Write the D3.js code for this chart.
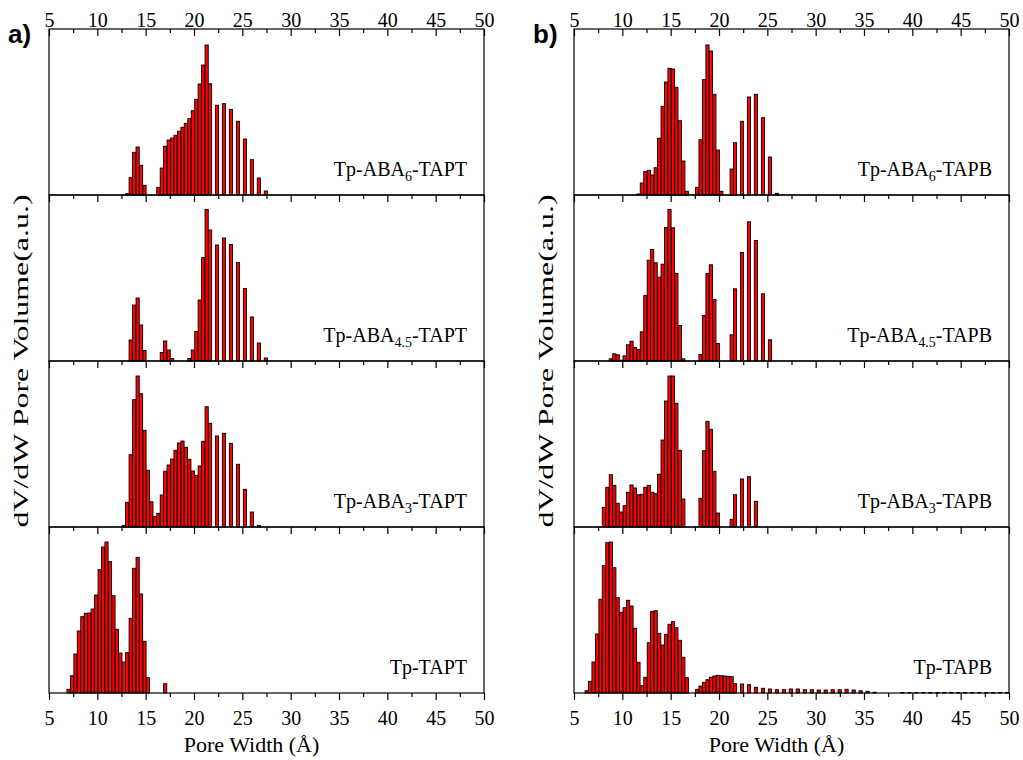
<!DOCTYPE html>
<html>
<head>
<meta charset="utf-8">
<script src="https://cdn.jsdelivr.net/npm/d3@7"></script>
<style>
  body { margin: 0; background: #fff; }
</style>
</head>
<body>
<div class="chart"></div>
<script>
// DFT pore width grid (Å)
const poreWidth = [
  6.31, 6.67, 7.02, 7.38, 7.74, 8.09, 8.45, 8.81, 9.17, 9.52,
  9.88, 10.24, 10.59, 10.95, 11.31, 11.67, 12.02, 12.38, 12.74, 13.09,
  13.45, 13.81, 14.17, 14.52, 14.88, 15.24, 15.59, 15.95, 16.31, 16.67,
  17.02, 17.38, 17.74, 18.09, 18.45, 18.81, 19.16, 19.52, 19.88, 20.24,
  20.59, 20.95, 21.31, 21.66, 22.38, 23.10, 23.82, 24.55, 25.27, 25.99,
  26.71, 27.43, 28.15, 28.88, 29.60, 30.32, 31.04, 31.76, 32.48, 33.20,
  33.93, 34.65, 35.37, 36.09, 36.81, 37.53, 38.26, 38.98, 39.70, 40.42,
  41.14, 41.86, 42.59, 43.31, 44.03, 44.75, 45.47, 46.19, 46.92, 47.64,
  48.36, 49.08, 49.80
];

// dV/dW (a.u.), one value per pore width above, missing tail = 0
const tpABA6TAPT = [
  0, 0, 0, 0, 0, 0, 0, 0, 0, 0, 0, 0, 0, 0, 0, 0, 0, 0, 0,
  1.3, 17.3, 42.7, 48, 29.7, 9.7, 0, 0, 0, 7.7, 27, 48.7, 55, 57, 59.7,
  63.7, 67.7, 71.7, 76.3, 84.3, 95.7, 111, 130, 150, 111.3,
  89.7, 91.3, 85.7, 73.7, 56, 35.3, 17, 4
];
const tpABA45TAPT = [
  0, 0, 0, 0, 0, 0, 0, 0, 0, 0, 0, 0, 0, 0, 0, 0, 0, 0, 0, 0,
  21, 56, 63, 36, 10.5, 0, 0, 0, 0, 8.5, 20, 11, 2.5, 0, 0, 0, 0,
  2.5, 11, 29.5, 61, 103.5, 151.5, 131,
  116, 123, 116.5, 98.5, 72.5, 44, 18, 3
];
const tpABA3TAPT = [
  0, 0, 0, 0, 0, 0, 0, 0, 0, 0, 0, 0, 0, 0, 0, 0, 0, 0,
  1.7, 24.7, 72.3, 127.3, 151, 133.3, 96.7, 56.7, 25.3, 10.3, 13.7, 32,
  55.7, 62, 68, 76.7, 84, 86, 79.7, 67.7, 56, 51.7, 61, 85.7, 120.3, 103.7,
  91, 93.7, 83.7, 62.7, 37.7, 15, 1.7
];
const tpTAPT = [
  0, 0, 3.7, 17.3, 39, 62, 76.3, 79.7, 80, 84, 98, 123.3, 146, 151, 131.3,
  97.3, 63.7, 40, 31, 40.3, 74.7, 124.7, 135.7, 99, 51.7, 15.3, 0, 0, 0, 0, 9.3
];
const tpABA6TAPB = [
  0, 0, 0, 0, 0, 0, 0, 0, 0, 0, 0, 0, 0, 0, 0,
  1, 12, 23.3, 24.7, 20, 27.3, 56.7, 88.7, 113, 126.7, 126, 107.7, 74.3, 34, 3.7,
  0, 0, 7.7, 55.3, 115.3, 150, 144, 100.7, 45, 3.7, 0, 0, 26, 52.3,
  73.7, 98, 100.7, 77.3, 38, 1.7
];
const tpABA45TAPB = [
  0, 0, 0, 0, 0, 0, 0,
  2.2, 7.2, 6.2, 0.8, 5.2, 16.2, 19.8, 13.5, 11.5, 29.2, 65.5, 100.8, 111.5,
  98.2, 83.8, 96.8, 133.5, 151.5, 133.2, 87.5, 35.5, 2.2, 0, 0, 0, 0,
  6.5, 45.5, 87.5, 96.2, 61.5, 17.5, 0, 0, 0, 26.2, 72.2,
  108.5, 139.2, 120.5, 67.2, 21.2
];
const tpABA3TAPB = [
  0, 0, 0, 0, 0,
  19.7, 39.7, 52.3, 41.7, 23.7, 15, 21.3, 34.7, 42, 39, 32.3, 32.7, 39.7, 41.7,
  34.7, 33.3, 52.7, 87, 126, 151, 151, 123.7, 76.7, 28, 0, 0, 0, 0,
  28.7, 76.3, 105.7, 97.7, 55.7, 14, 0, 0, 0, 7.7, 32.3,
  48, 50.3, 25.7
];
const tpTAPB = [
  2.3, 11.7, 31, 59, 93.7, 127.3, 150.3, 151, 125.3, 95.3, 80.7, 85.3, 92.7, 87,
  64.7, 30.7, 7.3, 15.7, 50.3, 81.7, 82.3, 59.7, 48, 58.7, 68.7, 71.3, 65.3,
  52.7, 35.7, 15.3, 0, 0, 3.7, 7, 10.7, 13.3, 15.7, 17, 17.7, 17.3, 17, 16.7,
  16.3, 9.3, 9, 8.3, 5.7, 4.7, 4, 3.3, 3.3, 4, 4, 3.3, 3.3, 3, 3, 3.3, 3.3,
  3.7, 3, 2.3, 1.7, 0.8, 0, 0, 0, 0.5, 0.5, 0.5, 0.5, 0.5, 0.5, 0.5, 0.5,
  0.5, 0.5, 0.5, 0.5, 0.5, 0.5, 0.5, 0.5
];

// sample names: [main, subscript, rest]
const namesA = [["Tp-ABA", "6", "-TAPT"], ["Tp-ABA", "4.5", "-TAPT"], ["Tp-ABA", "3", "-TAPT"], ["Tp-TAPT", "", ""]];
const namesB = [["Tp-ABA", "6", "-TAPB"], ["Tp-ABA", "4.5", "-TAPB"], ["Tp-ABA", "3", "-TAPB"], ["Tp-TAPB", "", ""]];

const xTicks = [5, 10, 15, 20, 25, 30, 35, 40, 45, 50];
const xMinorTicks = [7.5, 12.5, 17.5, 22.5, 27.5, 32.5, 37.5, 42.5, 47.5];

const width = 1023;
const height = 760;

const svg = d3
  .select(".chart")
  .append("svg")
  .attr("width", width)
  .attr("height", height);

const plotTop = 29;
const rowHeight = 166;
const panelWidth = 435;
const barWidth = 0.33;
const serif = '"Liberation Serif", "Times New Roman", serif';

function drawPanel(left, tag, names, series) {
  const x = d3.scaleLinear().domain([5, 50]).range([left, left + panelWidth]);
  const y = d3.scaleLinear().domain([0, 166]).range([rowHeight, 0]);

  series.forEach((values, row) => {
    const g = svg
      .append("g")
      .attr("transform", `translate(0,${plotTop + row * rowHeight})`);

    const bars = values
      .map((v, i) => ({ w: poreWidth[i], v: v }))
      .filter((d) => d.v > 0);

    // bars
    g.selectAll("rect.bar")
      .data(bars)
      .enter()
      .append("rect")
      .attr("class", "bar")
      .attr("x", (d) => x(d.w - barWidth / 2))
      .attr("width", x(5 + barWidth) - x(5))
      .attr("y", (d) => y(d.v))
      .attr("height", (d) => y(0) - y(d.v))
      .attr("fill", "#ff0000")
      .attr("stroke", "#000")
      .attr("stroke-width", 0.9);

    // frame
    g.append("rect")
      .attr("x", x(5))
      .attr("y", 0)
      .attr("width", x(50) - x(5))
      .attr("height", rowHeight)
      .attr("fill", "none")
      .attr("stroke", "#000")
      .attr("stroke-width", 1.2);

    // inward ticks on top edge of each row
    const major = g.append("g").call(
      d3.axisBottom(x).tickValues(xTicks).tickSize(7).tickFormat("")
    );
    const minor = g.append("g").call(
      d3.axisBottom(x).tickValues(xMinorTicks).tickSize(4).tickFormat("")
    );
    [major, minor].forEach((a) => {
      a.select(".domain").remove();
      a.selectAll("line").attr("stroke", "#000").attr("stroke-width", 1.2);
    });

    // sample name
    const name = names[row];
    const label = g
      .append("text")
      .attr("x", x(50) - 17)
      .attr("y", rowHeight - 19)
      .attr("text-anchor", "end")
      .attr("font-family", serif)
      .attr("font-size", 20)
      .attr("fill", "#000");
    label.append("tspan").text(name[0]);
    if (name[1]) {
      label.append("tspan").attr("font-size", 14).attr("dy", 5).text(name[1]);
      label.append("tspan").attr("dy", -5).text(name[2]);
    }
  });

  const bottom = plotTop + series.length * rowHeight;

  // bottom axis with outward ticks and labels
  const bAxis = svg
    .append("g")
    .attr("transform", `translate(0,${bottom})`)
    .call(d3.axisBottom(x).tickValues(xTicks).tickSize(7).tickPadding(11));
  const bMinor = svg
    .append("g")
    .attr("transform", `translate(0,${bottom})`)
    .call(d3.axisBottom(x).tickValues(xMinorTicks).tickSize(4).tickFormat(""));
  [bAxis, bMinor].forEach((a) => {
    a.select(".domain").remove();
    a.selectAll("line").attr("stroke", "#000").attr("stroke-width", 1.2);
  });

  // top labels
  const tAxis = svg
    .append("g")
    .attr("transform", `translate(0,${plotTop})`)
    .call(d3.axisTop(x).tickValues(xTicks).tickSize(0).tickPadding(2));
  tAxis.select(".domain").remove();

  [bAxis, tAxis].forEach((a) => {
    a.selectAll("text")
      .attr("font-family", serif)
      .attr("font-size", 20)
      .attr("fill", "#000");
  });

  // axis titles
  svg
    .append("text")
    .attr("x", (x(5) + x(50)) / 2 - 15)
    .attr("y", 752)
    .attr("text-anchor", "middle")
    .attr("font-family", serif)
    .attr("font-size", 22)
    .text("Pore Width (Å)");

  svg
    .append("text")
    .attr("transform", `translate(${left - 21},${(plotTop + bottom) / 2}) rotate(-90)`)
    .attr("text-anchor", "middle")
    .attr("font-family", serif)
    .attr("font-size", 21)
    .attr("textLength", 333)
    .attr("lengthAdjust", "spacingAndGlyphs")
    .text("dV/dW Pore Volume(a.u.)");

  // panel tag
  svg
    .append("text")
    .attr("x", left - 41)
    .attr("y", 43)
    .attr("font-family", '"Liberation Sans", Arial, sans-serif')
    .attr("font-weight", "bold")
    .attr("font-size", 26)
    .text(tag);
}

drawPanel(49, "a)", namesA, [tpABA6TAPT, tpABA45TAPT, tpABA3TAPT, tpTAPT]);
drawPanel(574, "b)", namesB, [tpABA6TAPB, tpABA45TAPB, tpABA3TAPB, tpTAPB]);
</script>
</body>
</html>
